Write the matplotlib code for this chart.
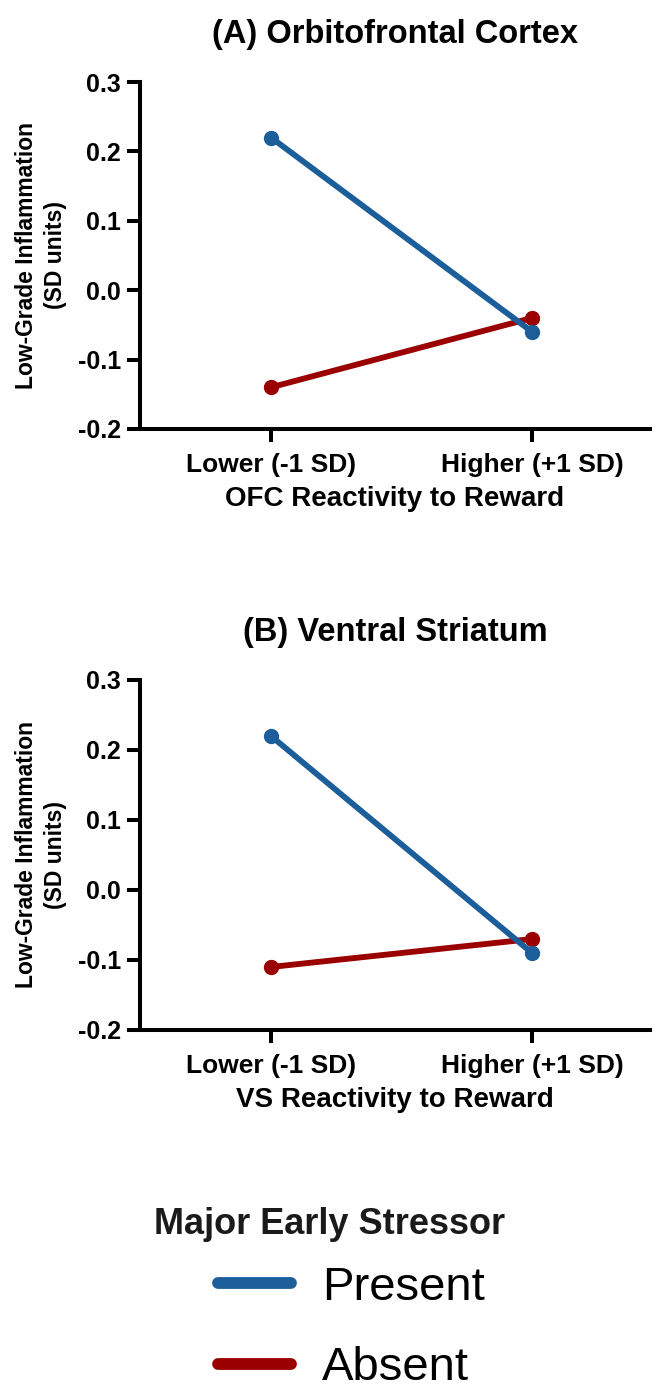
import matplotlib
matplotlib.use("Agg")
import matplotlib.pyplot as plt
from matplotlib.lines import Line2D

plt.rcParams["font.family"] = ["Liberation Sans", "DejaVu Sans"]

# data
levels = ["Lower (-1 SD)", "Higher (+1 SD)"]
ofc_present = [0.22, -0.06]
ofc_absent = [-0.14, -0.04]
vs_present = [0.22, -0.09]
vs_absent = [-0.11, -0.07]
y_ticks = [-0.2, -0.1, 0.0, 0.1, 0.2, 0.3]
group_names = ["Present", "Absent"]

BLUE = "#1b5e9a"
RED = "#9a0000"


def draw_panel(ax, present, absent, title, xlabel):
    x = list(range(len(levels)))
    ax.plot(x, absent, color=RED, lw=4.2, marker="o", ms=10, solid_capstyle="round", zorder=3)
    ax.plot(x, present, color=BLUE, lw=4.2, marker="o", ms=10, solid_capstyle="round", zorder=3)

    ax.set_xlim(-0.502, 1.452)
    ax.set_ylim(-0.2, 0.3)
    ax.set_xticks(x)
    ax.set_xticklabels(levels, fontsize=19, fontweight="bold")
    ax.set_yticks(y_ticks)
    ax.set_yticklabels(["%.1f" % v for v in y_ticks], fontsize=18, fontweight="bold")

    for side in ["top", "right"]:
        ax.spines[side].set_visible(False)
    for side in ["left", "bottom"]:
        ax.spines[side].set_linewidth(2.9)
        ax.spines[side].set_capstyle("projecting")
    ax.tick_params(axis="both", width=2.9, length=9.5)
    ax.tick_params(axis="y", pad=4)
    ax.tick_params(axis="x", pad=8)

    ax.set_title(title, fontsize=23.5, fontweight="bold", pad=28)
    ax.set_xlabel(xlabel, fontsize=20, fontweight="bold", labelpad=6)
    ax.set_ylabel("Low-Grade Inflammation\n(SD units)", fontsize=16.5, fontweight="bold",
                  linespacing=1.35, labelpad=8)


fig = plt.figure(figsize=(6.59, 13.90), dpi=100)
ax_a = fig.add_axes([0.2124, 0.6914, 0.774, 0.2496])
ax_b = fig.add_axes([0.2124, 0.2590, 0.774, 0.2518])

draw_panel(ax_a, ofc_present, ofc_absent, "(A) Orbitofrontal Cortex", "OFC Reactivity to Reward")
draw_panel(ax_b, vs_present, vs_absent, "(B) Ventral Striatum", "VS Reactivity to Reward")

# legend
fig.text(0.5, 1 - 1224 / 1390, "Major Early Stressor", fontsize=26, fontweight="bold",
         ha="center", va="center", color="#1a1a1a")
handles = [Line2D([], [], color=BLUE, lw=8.5, solid_capstyle="round"),
           Line2D([], [], color=RED, lw=8.5, solid_capstyle="round")]
fig.legend(handles, group_names, loc="upper left", bbox_to_anchor=(0.331, 1 - 1266 / 1390),
           frameon=False, fontsize=34, handlelength=1.55, handletextpad=0.65,
           labelspacing=0.77, borderpad=0, borderaxespad=0)

fig.savefig("out.png", dpi=100)
